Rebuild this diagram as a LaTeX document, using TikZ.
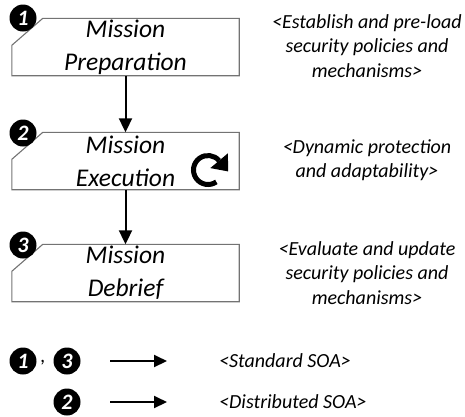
\documentclass[tikz,border=0pt]{standalone}
\usepackage{fontspec}
\setmainfont{Carlito}
\usetikzlibrary{arrows.meta,calc}

\begin{document}
\begin{tikzpicture}[x=1pt,y=-1pt,
  font=\itshape,
  stagebox/.style={minimum width=227pt, minimum height=57pt, inner sep=0pt,
    align=center, font=\itshape\fontsize{25.5}{33}\selectfont},
  outline/.style={draw=black!55, line width=1.1pt},
  badge/.style={circle, fill=black, inner sep=0pt, minimum size=27pt,
    text=white, font=\bfseries\itshape\fontsize{22}{22}\selectfont},
  note/.style={align=center, font=\itshape\fontsize{20}{24.5}\selectfont},
  flow/.style={line width=2pt, -{Triangle[length=14pt,width=13pt]}},
  keyarrow/.style={line width=2pt, -{Triangle[length=13pt,width=12pt]}},
]
\useasboundingbox (0,0) rectangle (465,416);

% stages
\node[stagebox] (prep) at (125.5,47)  {Mission\\Preparation};
\node[stagebox] (exec) at (125.5,161) {Mission\\Execution};
\node[stagebox] (debr) at (125.5,273) {Mission\\Debrief};

% chamfered outlines of the stages
\foreach \s in {prep,exec,debr}{
  \draw[outline] ($(\s.north west)+(31,0)$) -- (\s.north east) -- (\s.south east)
    -- (\s.south west) -- ($(\s.north west)+(0,27)$) -- cycle;
}

% numbered badges on the stages
\node[badge] (b1) at (23,18)  {1};
\node[badge] (b2) at (23,133) {2};
\node[badge] (b3) at (23,245) {3};

% flow between the stages
\draw[flow] (prep.south) -- (exec.north);
\draw[flow] (exec.south) -- (debr.north);

% loop icon inside the execution stage
\coordinate (loopc) at (208,170);
\coordinate (loope) at ($(loopc)+(320:14.5)$);
\draw[line width=5pt] ($(loopc)+(55:14.5)$) arc[start angle=55, end angle=320, radius=14.5];
\fill (loope) -- ($(loope)+(320:11.5)$) -- ($(loope)+(50:14)$) -- ($(loope)+(140:11.5)$) -- cycle;

% descriptions
\node[note] (n1) at (367,46)  {<Establish and pre-load\\security policies and\\mechanisms>};
\node[note] (n2) at (367,160) {<Dynamic protection\\and adaptability>};
\node[note] (n3) at (367,273) {<Evaluate and update\\security policies and\\mechanisms>};

% legend
\node[badge] (k1) at (23,361) {1};
\node[font=\itshape\fontsize{20}{20}\selectfont] (kc) at (43,363) {,};
\node[badge] (k3) at (67,361) {3};
\node[badge] (k2) at (67,402) {2};

\coordinate (a1s) at (110,361);
\coordinate (a1e) at (167,361);
\coordinate (a2s) at (110,402);
\coordinate (a2e) at (167,402);
\draw[keyarrow] (a1s) -- (a1e);
\draw[keyarrow] (a2s) -- (a2e);

\node[note, anchor=west, inner sep=0pt] (l1) at (219,361) {<Standard SOA>};
\node[note, anchor=west, inner sep=0pt] (l2) at (219,402) {<Distributed SOA>};
\end{tikzpicture}
\end{document}
